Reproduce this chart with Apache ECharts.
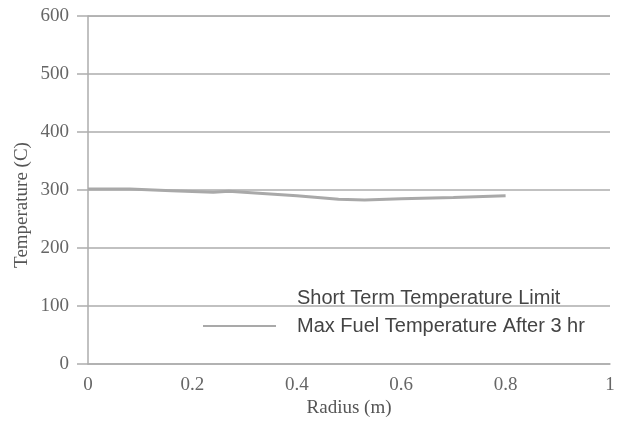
<!DOCTYPE html>
<html>
<head>
<meta charset="utf-8">
<script src="https://cdn.jsdelivr.net/npm/echarts@6/dist/echarts.min.js"></script>
<style>
  html, body { margin: 0; padding: 0; background: #fff; }
  #chart { width: 619px; height: 423px; }
</style>
</head>
<body>
<div id="chart"></div>
<script>
// Radial temperature profile of the fuel after 3 hours
const radius = [0, 0.08, 0.16, 0.24, 0.27, 0.32, 0.40, 0.48, 0.53, 0.60, 0.70, 0.80];
const maxFuelTemp = [302, 302, 299, 296, 298, 295, 290, 284, 283, 285, 287, 290];

// Short term limit held constant across the radius
const limitRadius = [0, 1];
const limitTemp = [600, 600];

const xTicks = { min: 0, max: 1, step: 0.2 };
const yTicks = { min: 0, max: 600, step: 100 };

const seriesNames = ['Short Term Temperature Limit', 'Max Fuel Temperature After 3 hr'];

const gray = '#adadad';
const serif = '"Liberation Serif", "Times New Roman", serif';
const sans = '"Liberation Sans", Arial, sans-serif';

const chart = echarts.init(document.getElementById('chart'));
chart.setOption({
  backgroundColor: '#fff',
  animation: false,
  grid: { left: 88, right: 9, top: 16, bottom: 55, containLabel: false },
  xAxis: {
    type: 'value',
    min: xTicks.min, max: xTicks.max, interval: xTicks.step,
    name: 'Radius (m)',
    nameLocation: 'middle',
    nameGap: 34,
    nameTextStyle: { fontFamily: serif, fontSize: 19, color: '#555' },
    axisLine: { show: true, lineStyle: { color: gray, width: 1.5 } },
    axisTick: { show: false },
    axisLabel: { fontFamily: serif, fontSize: 19, color: '#666', margin: 11 },
    splitLine: { show: false }
  },
  yAxis: {
    type: 'value',
    min: yTicks.min, max: yTicks.max, interval: yTicks.step,
    axisLine: { show: true, lineStyle: { color: gray, width: 1.5 } },
    axisTick: { show: true, length: 11, lineStyle: { color: gray, width: 1.5 } },
    axisLabel: { fontFamily: serif, fontSize: 19, color: '#666', margin: 19 },
    splitLine: { show: true, lineStyle: { color: gray, width: 1.5 } }
  },
  legend: {
    orient: 'vertical',
    left: 197,
    top: 283,
    itemWidth: 73,
    itemHeight: 20,
    itemGap: 8,
    textStyle: { fontFamily: sans, fontSize: 20, color: '#444', padding: [0, 0, 0, 16] },
    data: [
      { name: seriesNames[0], itemStyle: { opacity: 0 }, lineStyle: { opacity: 0 } },
      { name: seriesNames[1], itemStyle: { opacity: 0 } }
    ]
  },
  graphic: [{
    type: 'text',
    x: 22,
    y: 205,
    rotation: Math.PI / 2,
    style: {
      text: 'Temperature (C)',
      fontFamily: serif,
      fontSize: 19,
      fill: '#555',
      textAlign: 'center',
      textVerticalAlign: 'middle'
    }
  }],
  series: [
    {
      name: seriesNames[0],
      type: 'line',
      symbol: 'none',
      data: limitRadius.map((r, i) => [r, limitTemp[i]]),
      lineStyle: { color: gray, width: 1.5 },
      itemStyle: { color: gray },
      z: 1
    },
    {
      name: seriesNames[1],
      type: 'line',
      symbol: 'none',
      data: radius.map((r, i) => [r, maxFuelTemp[i]]),
      lineStyle: { color: '#a9a9a9', width: 3 },
      itemStyle: { color: '#a9a9a9' },
      z: 3
    }
  ]
});
</script>
</body>
</html>
